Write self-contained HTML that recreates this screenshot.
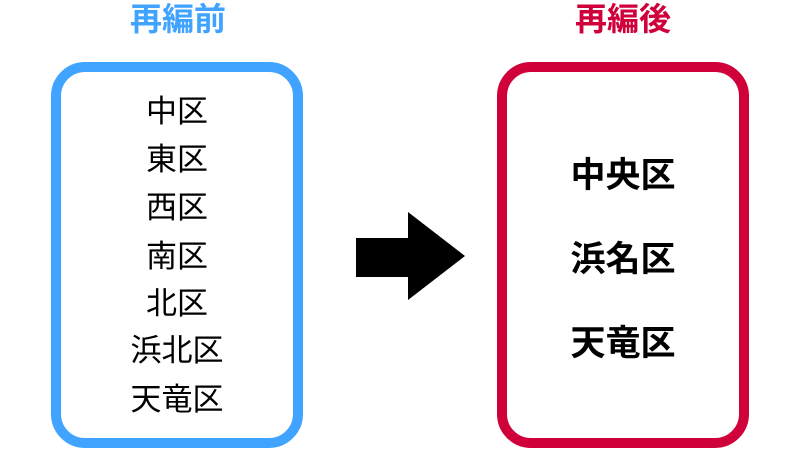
<!DOCTYPE html>
<html><head><meta charset="utf-8"><style>
body{margin:0;width:800px;height:449px;background:#fff;position:relative;overflow:hidden;font-family:"Liberation Sans","Noto Sans CJK JP",sans-serif;}
.t{position:absolute;font-weight:bold;font-size:32px;line-height:32px;text-align:center;width:200px;}
.box{position:absolute;top:62px;width:232px;height:366px;border:10px solid;border-radius:34px;}
.l{position:absolute;left:0;width:252px;text-align:center;font-size:31px;line-height:31px;color:#000;}
.r{position:absolute;left:0;width:252px;text-align:center;font-size:35px;line-height:35px;font-weight:bold;color:#000;}
</style></head><body>
<div class="t" style="left:78px;top:3px;color:#3fa3ff">再編前</div>
<div class="t" style="left:523px;top:3px;color:#d0003a">再編後</div>
<div class="box" style="left:51px;border-color:#3fa3ff"></div>
<div class="box" style="left:497px;border-color:#d0003a"></div>
<div style="position:absolute;left:51px;top:1px">
<div class="l" style="top:95px">中区</div>
<div class="l" style="top:143px">東区</div>
<div class="l" style="top:191px">西区</div>
<div class="l" style="top:240px">南区</div>
<div class="l" style="top:287px">北区</div>
<div class="l" style="top:334px">浜北区</div>
<div class="l" style="top:383px">天竜区</div>
</div>
<div style="position:absolute;left:497px;top:2px">
<div class="r" style="top:156px">中央区</div>
<div class="r" style="top:240px">浜名区</div>
<div class="r" style="top:324px">天竜区</div>
</div>
<svg style="position:absolute;left:0;top:0" width="800" height="449"><polygon points="356,238 408,238 408,212 465,256 408,300 408,277 356,277" fill="#000"/></svg>
</body></html>
